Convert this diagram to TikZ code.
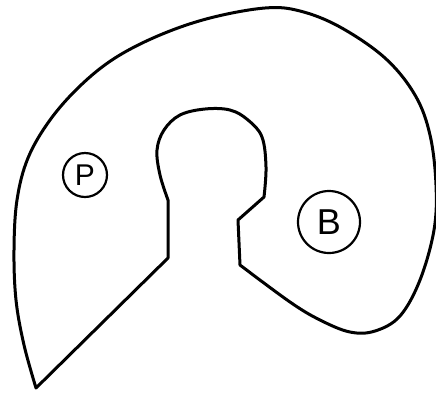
\documentclass[tikz,border=0pt]{standalone}
\usepackage{fontspec}
\setmainfont{Liberation Sans}
\begin{document}
\begin{tikzpicture}[x=1pt,y=-1pt,
  outline/.style={line width=3pt,line join=round},
  label/.style={draw,circle,line width=2.2pt,inner sep=0pt}]
\useasboundingbox (0,0) rectangle (436,392);
\draw[outline] plot[smooth,tension=0.6] coordinates {(36,388) (24,345) (16,300) (14,250) (17,200) (28,158) (50,120) (80,86) (115,58) (160,35) (210,18) (265,8) (300,11) (340,27) (385,58) (415,95) (430,135) (436,185) (434,230) (420,280) (400,316) (375,331) (350,332) (320,320) (290,302) (240,265)}
  -- (238,220) -- (264,197)
  -- plot[smooth,tension=0.6] coordinates {(264,197) (266,167) (262,137) (248,120) (230,110) (205,109) (180,115) (164,130) (157,150) (160,175) (168,200)}
  -- (168,258) -- cycle;
\node[label,minimum size=44pt,font=\fontsize{30}{30}\selectfont] (P) at (85,175) {P};
\node[label,minimum size=62pt,font=\fontsize{36}{36}\selectfont] (B) at (329,222) {B};
\end{tikzpicture}
\end{document}
